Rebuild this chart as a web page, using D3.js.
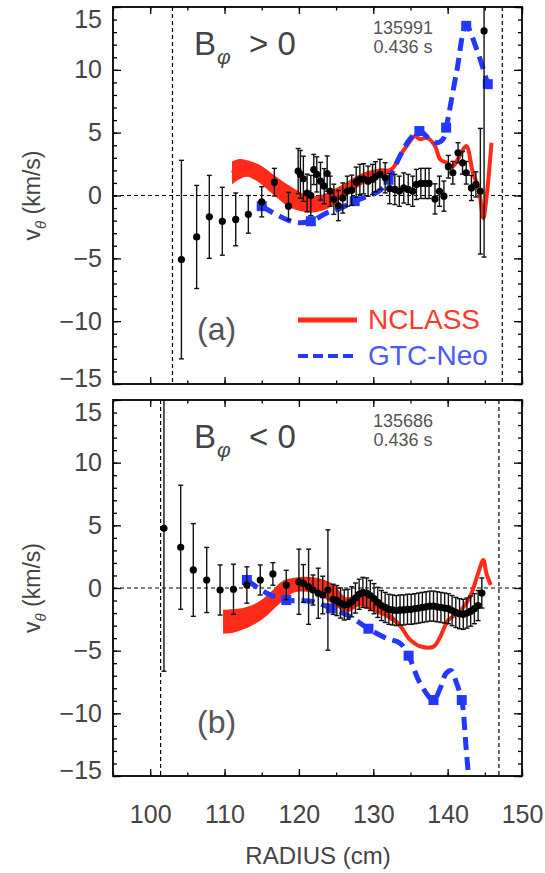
<!doctype html>
<html>
<head>
<meta charset="utf-8">
<script src="https://d3js.org/d3.v7.min.js"></script>
<style>
  body { margin: 0; background: #fff; }
  svg { display: block; font-family: "Liberation Sans", Arial, sans-serif; }
</style>
</head>
<body>
<div id="chart"></div>
<script>
// ---- data ----
// panel (a): B_phi > 0, shot 135991
var aR   = [104.2,106.25,107.95,109.7,111.5,113.2,115.0,116.7,118.6,119.9,120.2,120.6,121.1,121.6,122.0,122.4,122.9,123.4,123.8,124.2,124.7,125.3,125.9,126.5,127.1,127.7,128.2,128.7,129.3,129.9,130.3,130.9,131.6,132.2,132.9,133.5,134.1,134.7,135.3,135.8,136.4,137.0,137.5,138.3,138.9,139.5,140.1,140.7,141.4,142.0,142.5,143.2,143.8,144.4,144.9];
var aV   = [-5.1,-3.3,-1.7,-2.05,-1.9,-1.5,-0.5,1.06,-0.85,1.94,1.68,1.33,0.2,0.0,2.07,1.68,1.14,0.74,1.75,0.34,-0.3,-0.8,-0.2,0.34,0.42,1.06,1.28,1.33,1.14,1.28,1.49,1.68,1.41,0.55,0.48,0.34,0.6,0.48,0.34,0.88,0.96,0.96,0.96,-0.27,0.34,-0.05,2.29,1.81,3.4,2.6,1.81,0.6,0.88,0.34,13.1];
var aErr = [7.9,4.1,3.3,2.7,2.1,1.5,1.2,1.1,1.1,1.8,1.9,1.8,1.5,1.6,1.2,1.4,1.5,1.4,1.4,1.2,1.2,1.2,1.2,1.2,1.2,1.2,1.2,1.2,1.2,1.2,1.2,1.2,1.2,1.2,1.2,1.2,1.2,1.2,1.2,1.2,1.2,1.2,1.2,1.2,1.2,1.2,0.9,0.9,0.8,0.9,0.9,1.0,1.0,5.0,18.0];

var aNcR  = [111.0,112.0,113.0,114.5,116.5,118.8,121.5,123.7,125.5,128.6,130.9,132.5,133.6,134.5,135.6,136.3,137.2,138.3,139.0,139.9,140.7,141.6,142.5,143.4,144.2,144.8,145.2,145.9];
var aNcV  = [1.8,2.1,2.15,1.8,0.9,-0.1,-0.7,-0.45,0.2,1.35,1.8,2.1,3.19,3.94,4.73,4.47,4.6,3.94,2.87,2.6,2.34,3.14,3.94,1.81,0.48,-1.8,-0.3,4.2];
var aNcW  = [0.9,0.8,0.65,0.7,0.8,0.85,0.65,0.65,0.55,0.45,0.35,0.1,0,0,0,0,0,0,0,0,0,0,0,0,0,0,0,0];

var aGtR  = [115.0,117.4,119.7,121.6,123.7,125.5,127.5,129.5,130.9,132.05,133.6,134.9,136.2,137.6,138.5,139.4,139.8,141.2,142.5,143.9,145.4];
var aGtV  = [-0.85,-1.65,-2.15,-2.05,-1.4,-1.05,-0.45,0.0,0.4,1.25,3.14,4.47,5.13,4.47,4.2,4.5,5.4,9.8,13.5,11.65,8.86];
var aSqR  = [115.0,121.6,127.5,132.05,136.2,139.8,142.5,145.4];
var aSqV  = [-0.85,-2.05,-0.45,1.25,5.13,5.4,13.5,8.86];
var aSep  = [103.0,147.35];

// panel (b): B_phi < 0, shot 135686
var bR   = [101.85,104.1,105.8,107.6,109.4,111.2,113.0,114.8,116.5,118.3,120.0,120.6,121.3,121.9,122.6,123.2,123.9,124.6,
            125.1,125.6,126.1,126.6,127.1,127.6,128.1,128.6,129.1,129.6,130.1,130.6,131.1,131.6,132.1,132.6,133.1,133.6,134.1,134.6,
            135.1,135.6,136.1,136.6,137.1,137.6,138.1,138.6,139.1,139.6,140.1,140.6,141.1,141.6,142.1,142.6,143.1,143.6,144.1,144.6];
var bV   = [4.76,3.25,1.44,0.64,-0.16,-0.1,0.24,0.64,1.12,0.24,0.5,0.37,0.1,-0.16,-0.42,-0.56,-0.16,-0.9,
            -1.0,-1.2,-1.35,-1.3,-1.1,-0.8,-0.5,-0.35,-0.4,-0.6,-0.85,-1.15,-1.4,-1.55,-1.7,-1.75,-1.8,-1.75,-1.75,-1.7,
            -1.7,-1.65,-1.6,-1.55,-1.5,-1.45,-1.45,-1.5,-1.55,-1.6,-1.65,-1.8,-1.95,-2.05,-2.1,-2.0,-1.85,-1.65,-1.4,-0.4];
var bErr = [11.4,4.95,3.7,2.6,2.0,2.0,1.45,1.2,0.9,1.17,2.6,1.5,3.0,1.2,2.0,1.5,4.8,1.2,
            1.2,1.2,1.2,1.2,1.2,1.2,1.2,1.2,1.2,1.2,1.2,1.2,1.2,1.2,1.2,1.2,1.2,1.2,1.2,1.2,
            1.2,1.2,1.2,1.2,1.2,1.2,1.2,1.2,1.2,1.2,1.2,1.2,1.2,1.2,1.2,1.2,1.2,1.2,1.2,1.2];

var bNcR  = [109.8,111.0,112.5,114.3,115.5,116.5,117.9,119.2,121.0,122.8,124.6,126.4,128.2,130.0,131.8,133.6,134.9,136.3,138.1,139.0,140.1,141.6,143.0,144.1,144.8,145.2,145.8];
var bNcV  = [-2.7,-2.65,-2.45,-2.0,-1.5,-0.95,-0.2,0.2,0.3,0.1,-0.5,-1.35,-0.95,-1.5,-2.1,-3.0,-4.1,-4.65,-4.68,-3.9,-2.55,-1.9,-0.7,1.17,2.23,1.2,0.24];
var bNcW  = [0.95,0.95,0.85,0.8,0.8,0.8,0.8,0.6,0.6,0.65,0.8,0.6,0.5,0.4,0.3,0.2,0.1,0,0,0,0,0,0,0,0,0,0];

var bGtR  = [113.0,115.7,118.3,121.9,124.3,126.9,129.35,131.8,133.6,134.75,136.3,138.1,139.0,139.8,140.5,141.2,141.9,142.5,143.1];
var bGtV  = [0.64,-0.42,-0.96,-1.09,-1.62,-2.29,-3.25,-4.02,-4.4,-5.4,-7.6,-8.94,-8.0,-6.8,-6.6,-7.6,-8.94,-12.9,-17.0];
var bSqR  = [113.0,118.3,124.3,129.35,134.75,138.1,141.9];
var bSqV  = [0.64,-0.96,-1.62,-3.25,-5.4,-8.94,-8.94];
var bSep  = [101.4,146.9];

var xMajor = [100,110,120,130,140,150];
var yMajor = [-15,-10,-5,0,5,10,15];

// ---- layout ----
var W = 545, H = 873;
var RED = "#ff2a17", BLUE = "#2337ff", GREY = "#444";
var x = d3.scaleLinear().domain([95,150]).range([113,522]);

var svg = d3.select("#chart").append("svg").attr("width", W).attr("height", H);

var panels = [
  {id:"a", top:7, bottom:384, r:aR, v:aV, e:aErr, ncR:aNcR, ncV:aNcV, ncW:aNcW, gtR:aGtR, gtV:aGtV, sqR:aSqR, sqV:aSqV, sep:aSep,
   sign:">", shot:"135991", tag:"(a)", legend:true, xlabels:false},
  {id:"b", top:400, bottom:776, r:bR, v:bV, e:bErr, ncR:bNcR, ncV:bNcV, ncW:bNcW, gtR:bGtR, gtV:bGtV, sqR:bSqR, sqV:bSqV, sep:bSep,
   sign:"<", shot:"135686", tag:"(b)", legend:false, xlabels:true}
];

panels.forEach(function(p) {
  var y = d3.scaleLinear().domain([-15,15]).range([p.bottom, p.top]);
  var g = svg.append("g");

  g.append("clipPath").attr("id", "clip-" + p.id).append("rect")
    .attr("x", x(95)).attr("y", p.top).attr("width", x(150) - x(95)).attr("height", p.bottom - p.top);
  var plot = g.append("g").attr("clip-path", "url(#clip-" + p.id + ")");

  // dashed reference lines
  plot.append("line").attr("x1", x(95)).attr("x2", x(150)).attr("y1", y(0)).attr("y2", y(0))
    .attr("stroke", "#000").attr("stroke-width", 1).attr("stroke-dasharray", "4,3");
  plot.selectAll(".sep").data(p.sep).enter().append("line")
    .attr("x1", function(d){return x(d);}).attr("x2", function(d){return x(d);})
    .attr("y1", p.top).attr("y2", p.bottom)
    .attr("stroke", "#000").attr("stroke-width", 1.2).attr("stroke-dasharray", "4,3");

  // NCLASS band
  var nc = p.ncR.map(function(r,i){ return {r:r, v:p.ncV[i], w:p.ncW[i]}; });
  plot.append("path").datum(nc)
    .attr("d", d3.area().curve(d3.curveCatmullRom)
      .x(function(d){return x(d.r);})
      .y0(function(d){return y(d.v - d.w);})
      .y1(function(d){return y(d.v + d.w);}))
    .attr("fill", RED);
  plot.append("path").datum(nc)
    .attr("d", d3.line().curve(d3.curveCatmullRom).x(function(d){return x(d.r);}).y(function(d){return y(d.v);}))
    .attr("fill", "none").attr("stroke", RED).attr("stroke-width", 4);

  // GTC-Neo dashed
  var gt = p.gtR.map(function(r,i){ return [r, p.gtV[i]]; });
  plot.append("path").datum(gt)
    .attr("d", d3.line().curve(d3.curveCatmullRom).x(function(d){return x(d[0]);}).y(function(d){return y(d[1]);}))
    .attr("fill", "none").attr("stroke", BLUE).attr("stroke-width", 5).attr("stroke-dasharray", "13,7");
  plot.selectAll(".sq").data(p.sqR).enter().append("rect")
    .attr("x", function(d){return x(d) - 5;})
    .attr("y", function(d,i){return y(p.sqV[i]) - 5;})
    .attr("width", 10).attr("height", 10).attr("fill", BLUE);

  // measured points with error bars
  var pts = p.r.map(function(r,i){ return {r:r, v:p.v[i], e:p.e[i]}; });
  var eb = plot.selectAll(".pt").data(pts).enter().append("g");
  eb.append("line")
    .attr("x1", function(d){return x(d.r);}).attr("x2", function(d){return x(d.r);})
    .attr("y1", function(d){return y(d.v + d.e);}).attr("y2", function(d){return y(d.v - d.e);})
    .attr("stroke", "#111").attr("stroke-width", 1.4);
  [1,-1].forEach(function(s) {
    eb.append("line")
      .attr("x1", function(d){return x(d.r) - 2.5;}).attr("x2", function(d){return x(d.r) + 2.5;})
      .attr("y1", function(d){return y(d.v + s*d.e);}).attr("y2", function(d){return y(d.v + s*d.e);})
      .attr("stroke", "#111").attr("stroke-width", 1.4);
  });
  eb.append("circle").attr("cx", function(d){return x(d.r);}).attr("cy", function(d){return y(d.v);})
    .attr("r", 3.6).attr("fill", "#000");

  // axes: ticks inward on all four sides
  var yMinor = d3.range(-15, 16, 1), xMinor = d3.range(95, 151, 5);
  var left = g.append("g").attr("transform", "translate(" + x(95) + ",0)")
    .call(d3.axisLeft(y).tickValues(yMajor).tickSize(-8).tickPadding(11));
  left.selectAll("text").attr("fill", GREY).style("font-size", "25px")
    .attr("dy", function(d){ return d === 15 ? "0.8em" : d === -15 ? "0.1em" : "0.32em"; });
  g.append("g").attr("transform", "translate(" + x(95) + ",0)")
    .call(d3.axisLeft(y).tickValues(yMinor).tickSize(-4).tickFormat(""));
  g.append("g").attr("transform", "translate(" + x(150) + ",0)")
    .call(d3.axisRight(y).tickValues(yMajor).tickSize(-8).tickFormat(""));
  g.append("g").attr("transform", "translate(" + x(150) + ",0)")
    .call(d3.axisRight(y).tickValues(yMinor).tickSize(-4).tickFormat(""));
  var bot = g.append("g").attr("transform", "translate(0," + p.bottom + ")")
    .call(d3.axisBottom(x).tickValues(xMajor).tickSize(-7).tickPadding(29)
      .tickFormat(p.xlabels ? d3.format("d") : ""));
  bot.selectAll("text").attr("fill", GREY).style("font-size", "25px");
  g.append("g").attr("transform", "translate(0," + p.bottom + ")")
    .call(d3.axisBottom(x).tickValues(xMinor).tickSize(-3.5).tickFormat(""));
  g.append("g").attr("transform", "translate(0," + p.top + ")")
    .call(d3.axisTop(x).tickValues(xMajor).tickSize(-7).tickFormat(""));
  g.append("g").attr("transform", "translate(0," + p.top + ")")
    .call(d3.axisTop(x).tickValues(xMinor).tickSize(-3.5).tickFormat(""));
  g.selectAll(".domain").remove();
  g.selectAll(".tick line").attr("stroke", "#000").attr("stroke-width", 1.3);

  g.append("rect").attr("x", x(95)).attr("y", p.top).attr("width", x(150) - x(95)).attr("height", p.bottom - p.top)
    .attr("fill", "none").attr("stroke", "#000").attr("stroke-width", 1.8);

  // annotations
  var bt = g.append("text").attr("y", p.top + 48).attr("fill", GREY).style("font-size", "33px");
  bt.append("tspan").attr("x", 194).text("B");
  bt.append("tspan").attr("x", 217).attr("dy", 9).style("font-size", "21px").style("font-style", "italic").text("\u03c6");
  bt.append("tspan").attr("x", 249).attr("dy", -9).text(p.sign + " 0");

  g.append("text").attr("x", 403).attr("y", p.top + 27).attr("text-anchor", "middle")
    .attr("fill", "#555").style("font-size", "18px").text(p.shot);
  g.append("text").attr("x", 403).attr("y", p.top + 46).attr("text-anchor", "middle")
    .attr("fill", "#555").style("font-size", "18px").text("0.436 s");

  g.append("text").attr("x", 197).attr("y", p.top + 333).attr("fill", "#555")
    .style("font-size", "32px").text(p.tag);

  var yt = g.append("text").attr("transform", "translate(40," + ((p.top + p.bottom) / 2) + ") rotate(-90)")
    .attr("text-anchor", "middle").attr("fill", GREY).style("font-size", "23px");
  yt.append("tspan").text("v");
  yt.append("tspan").attr("dy", 6).style("font-size", "15px").style("font-style", "italic").text("\u03b8");
  yt.append("tspan").attr("dy", -6).text(" (km/s)");

  if (p.legend) {
    g.append("line").attr("x1", 298).attr("x2", 357).attr("y1", 320).attr("y2", 320)
      .attr("stroke", RED).attr("stroke-width", 5);
    g.append("text").attr("x", 368).attr("y", 329).attr("fill", "#ff3a2a").style("font-size", "28px").text("NCLASS");
    g.append("line").attr("x1", 298).attr("x2", 357).attr("y1", 356).attr("y2", 356)
      .attr("stroke", BLUE).attr("stroke-width", 4).attr("stroke-dasharray", "10,5");
    g.append("text").attr("x", 368).attr("y", 365).attr("fill", "#4a5aff").style("font-size", "28px").text("GTC-Neo");
  }
});

svg.append("text").attr("x", 318).attr("y", 864).attr("text-anchor", "middle")
  .attr("fill", GREY).style("font-size", "24px").text("RADIUS (cm)");
</script>
</body>
</html>
